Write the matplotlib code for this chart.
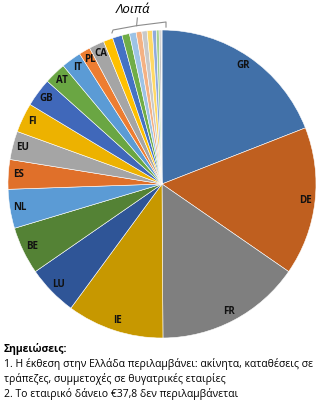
import numpy as np
import matplotlib
matplotlib.use("Agg")
import matplotlib.pyplot as plt

plt.rcParams['font.family'] = ['Open Sans', 'DejaVu Sans']

# Κατανομή έκθεσης ανά χώρα (%)
countries = ['GR', 'DE', 'FR', 'IE', 'LU', 'BE', 'NL', 'ES', 'EU', 'FI',
             'GB', 'AT', 'IT', 'PL', 'CA']
shares = [19.1, 15.6, 15.3, 10.2, 5.3, 5.0, 4.1, 3.1, 3.0, 3.1,
          3.0, 2.3, 2.1, 1.2, 1.6]
# λοιπές χώρες (χωρίς ετικέτα)
other_shares = [1.0, 1.0, 0.8, 0.7, 0.6, 0.55, 0.55, 0.4, 0.3, 0.2, 0.1]

colors = ['#4170A8', '#BF5F1F', '#7F7F7F', '#C79800', '#2F5597', '#548235',
          '#5B9BD5', '#E0702A', '#A5A5A5', '#EDB200', '#4068BA', '#6AA643',
          '#5B9BD5', '#ED7D31', '#A5A5A5']
other_colors = ['#FFC000', '#4472C4', '#70AD47', '#9DC3E6', '#F4B183',
                '#C9C9C9', '#FFD966', '#8FAADC', '#A9D18E', '#BFBFBF', '#D0CECE']

notes_title = 'Σημειώσεις:'
notes = ['1. Η έκθεση στην Ελλάδα περιλαμβάνει: ακίνητα, καταθέσεις σε',
         'τράπεζες, συμμετοχές σε θυγατρικές εταιρίες',
         '2. Το εταιρικό δάνειο €37,8 δεν περιλαμβάνεται']

values = shares + other_shares
labels = countries + [''] * len(other_shares)

fig = plt.figure(figsize=(3.24, 4.11), dpi=100)
W, H = 324, 411
cx, cy, r = 162, 184, 154
ax = fig.add_axes([(cx - r) / W, (H - cy - r) / H, 2 * r / W, 2 * r / H])

wedges, texts = ax.pie(values, labels=labels, colors=colors + other_colors,
                       startangle=90, counterclock=False, radius=1,
                       labeldistance=0.935,
                       wedgeprops=dict(edgecolor='white', linewidth=0.4),
                       textprops=dict(fontsize=7, fontweight='bold', color='#111111'))
for t in texts:
    t.set_ha('center')
    t.set_va('center')
ax.set_xlim(-1, 1)
ax.set_ylim(-1, 1)
ax.axis('off')

# αγκύλη πάνω από τις λοιπές χώρες
bx = [-0.325, -0.318, -0.165, 0.026, 0.026]
by = [0.981, 1.000, 1.028, 1.052, 1.019]
ax.plot(bx, by, color='#8C8C8C', lw=0.8, clip_on=False)
ax.plot([-0.165, -0.160], [1.028, 1.078], color='#8C8C8C', lw=0.8, clip_on=False)
ax.text(-0.19, 1.135, 'Λοιπά', fontsize=9.5, style='italic', ha='center', va='center',
        clip_on=False)

fig.text(4 / W, 1 - 349 / H, notes_title, fontsize=7.5, fontweight='bold', va='center')
for i, line in enumerate(notes):
    fig.text(4 / W, 1 - (364 + 15 * i) / H, line, fontsize=7.5, va='center')

fig.savefig('out.png', dpi=100)
